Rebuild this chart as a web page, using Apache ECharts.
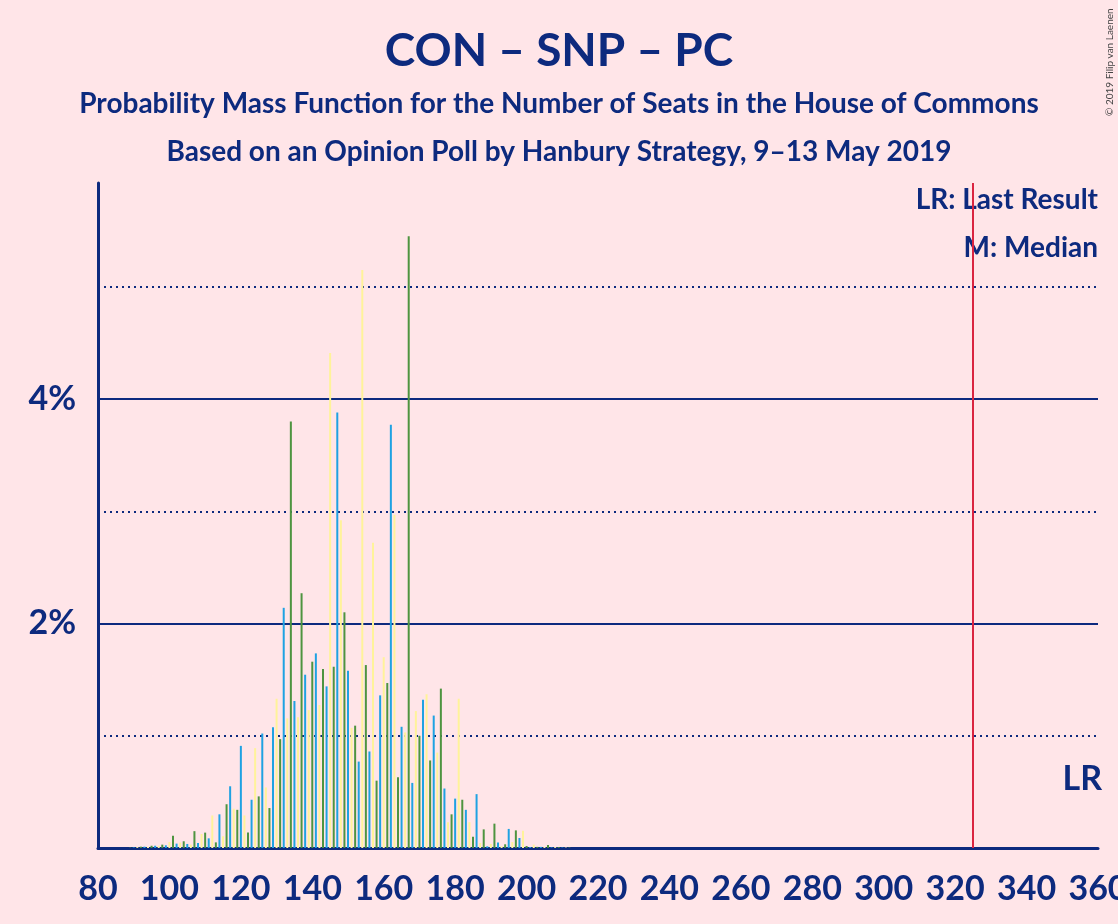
<!DOCTYPE html>
<html>
<head>
<meta charset="utf-8">
<script src="https://cdn.jsdelivr.net/npm/echarts@6/dist/echarts.min.js"></script>
<style>
html, body { margin: 0; padding: 0; background: #FFE5E8; }
#chart { width: 1118px; height: 924px; }
</style>
</head>
<body>
<div id="chart"></div>
<script>
// seats 80 .. 212, probability in %
var firstSeat = 80;
var probs = [
  0, 0, 0, 0, 0, 0, 0, 0, 0, 0.003,          // 80-89
  0.005, 0.008, 0.012, 0.012, 0.012, 0.02, 0.02, 0.02, 0.03, 0.024,   // 90-99
  0.053, 0.11, 0.039, 0.048, 0.06, 0.036, 0.03, 0.15, 0.045, 0.125,   // 100-109
  0.137, 0.086, 0.29, 0.05, 0.30, 0.104, 0.39, 0.55, 0.35, 0.34,      // 110-119
  0.91, 0.29, 0.137, 0.43, 0.89, 0.46, 1.02, 0.54, 0.356, 1.075,      // 120-129
  1.33, 0.97, 2.14, 1.155, 3.80, 1.31, 1.164, 2.27, 1.544, 1.229,     // 130-139
  1.66, 1.734, 1.274, 1.595, 1.44, 4.41, 1.615, 3.88, 2.92, 2.10,     // 140-149
  1.58, 1.07, 1.09, 0.77, 5.15, 1.63, 0.86, 2.72, 0.60, 1.36,         // 150-159
  1.70, 1.47, 3.77, 2.97, 0.63, 1.08, 1.03, 5.45, 0.58, 1.22,         // 160-169
  1.00, 1.32, 1.37, 0.78, 1.18, 0.85, 1.42, 0.53, 0.23, 0.30,         // 170-179
  0.44, 1.33, 0.43, 0.34, 0.23, 0.10, 0.48, 0.045, 0.166, 0.015,      // 180-189
  0.036, 0.217, 0.05, 0.015, 0.033, 0.17, 0.053, 0.157, 0.089, 0.154, // 190-199
  0.018, 0.009, 0.03, 0.01, 0.01, 0.01, 0.027, 0.005, 0.008, 0.008,   // 200-209
  0.004, 0.004, 0.004                                                 // 210-212
];
var barColors = ['#1FA2E2', '#FFF39A', '#4E9440']; // by seat mod 3
var xTicks = [80, 100, 120, 140, 160, 180, 200, 220, 240, 260, 280, 300, 320, 340, 360];
var lastResult = 325;

var navy = '#0D2A7E';
var font = 'Lato';

var seriesData = probs.map(function (p, i) { return [firstSeat + i, p]; });

var myChart = echarts.init(document.getElementById('chart'));
var option = {
  backgroundColor: '#FFE5E8',
  animation: false,
  grid: { left: 98, right: 20, top: 183, bottom: 76, outerBoundsMode: 'none', containLabel: false },
  xAxis: {
    type: 'value',
    min: xTicks[0],
    max: xTicks[xTicks.length - 1],
    interval: 20,
    axisLine: { show: true, lineStyle: { color: navy, width: 3 } },
    axisTick: { show: false },
    splitLine: { show: false },
    axisLabel: {
      color: navy, fontFamily: font, fontWeight: 'bold', fontSize: 34, margin: 24
    }
  },
  yAxis: [{
    type: 'value',
    position: 'left',
    min: 0,
    max: 5.925,
    interval: 2,
    axisLine: { show: true, lineStyle: { color: navy, width: 3 } },
    axisTick: { show: false },
    splitLine: { show: true, lineStyle: { color: [navy, navy, navy, 'rgba(0,0,0,0)'], width: 2 } },
    axisLabel: {
      color: navy, fontFamily: font, fontWeight: 'bold', fontSize: 34, margin: 22,
      formatter: function (v) { return (v === 2 || v === 4) ? v + '%' : ''; }
    }
  }, {
    type: 'value',
    position: 'left',
    min: 0,
    max: 5.925,
    interval: 1,
    axisLine: { show: false },
    axisTick: { show: false },
    axisLabel: { show: false },
    splitLine: { show: true, lineStyle: { color: ['rgba(0,0,0,0)', navy], width: 2, type: [2, 4] } }
  }],
  series: [{
    type: 'bar',
    yAxisIndex: 0,
    barWidth: 2,
    data: seriesData,
    itemStyle: {
      color: function (p) { return barColors[p.data[0] % 3]; }
    },
    markLine: {
      silent: true,
      symbol: 'none',
      label: { show: false },
      lineStyle: { color: '#DA2440', width: 2, type: 'solid' },
      data: [{ xAxis: lastResult }]
    }
  }],
  graphic: [
    { type: 'text', left: 'center', top: 28,
      style: { text: 'CON – SNP – PC', fill: navy, font: 'bold 46px Lato' } },
    { type: 'text', left: 'center', top: 90,
      style: { text: 'Probability Mass Function for the Number of Seats in the House of Commons', fill: navy, font: 'bold 28px Lato' } },
    { type: 'text', left: 'center', top: 138,
      style: { text: 'Based on an Opinion Poll by Hanbury Strategy, 9–13 May 2019', fill: navy, font: 'bold 28px Lato' } },
    { type: 'text', right: 20, top: 186,
      style: { text: 'LR: Last Result', fill: navy, font: 'bold 28px Lato' } },
    { type: 'text', right: 20, top: 234,
      style: { text: 'M: Median', fill: navy, font: 'bold 28px Lato' } },
    { type: 'text', right: 16, top: 762,
      style: { text: 'LR', fill: navy, font: 'bold 34px Lato' } },
    { type: 'text', x: 1105, y: 116, rotation: Math.PI / 2,
      style: { text: '© 2019 Filip van Laenen', fill: '#444', font: '10px Lato' } }
  ]
};
myChart.setOption(option);
</script>
</body>
</html>
